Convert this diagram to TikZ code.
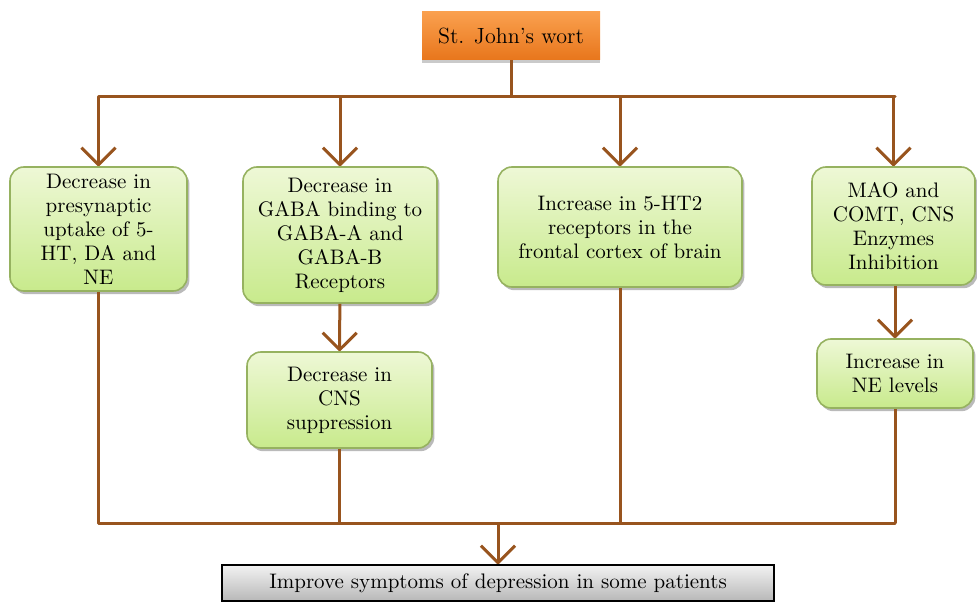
\documentclass[tikz,border=0pt]{standalone}
\usetikzlibrary{arrows.meta,shadows}

\definecolor{linkbrown}{RGB}{152,84,30}
\definecolor{greentop}{RGB}{238,248,214}
\definecolor{greenbot}{RGB}{200,234,140}
\definecolor{greenedge}{RGB}{150,178,96}
\definecolor{orangetop}{RGB}{250,160,78}
\definecolor{orangebot}{RGB}{232,118,28}

\begin{document}
\begin{tikzpicture}[x=0.5pt,y=-0.5pt,
    effect/.style={rounded corners=7pt,draw=greenedge,line width=0.8pt,
      top color=greentop,bottom color=greenbot,align=center,inner sep=2pt,
      font=\fontsize{10.5}{12}\selectfont,
      drop shadow={shadow xshift=1.2pt,shadow yshift=-1.6pt,fill=black!45,opacity=0.6}},
    herb/.style={top color=orangetop,bottom color=orangebot,align=center,
      font=\fontsize{11}{13}\selectfont,
      drop shadow={shadow xshift=0pt,shadow yshift=-1.6pt,fill=black!35,opacity=0.6}},
    outcome/.style={draw=black,line width=0.8pt,top color=black!5,bottom color=black!28,
      align=center,font=\fontsize{10.5}{12}\selectfont},
    link/.style={draw=linkbrown,line width=1.5pt},
    arr/.style={link,-{Straight Barb[length=8.5pt,width=17pt,line join=round]}}]
  \useasboundingbox (0,0) rectangle (977,603);

  \node[herb,minimum width=89pt,minimum height=24pt] (wort) at (511,36) {St. John's wort};

  \node[effect,minimum width=88.5pt,minimum height=62pt] (uptake) at (98.5,229)
    {Decrease in\\ presynaptic\\ uptake of 5-\\ HT, DA and\\ NE};
  \node[effect,minimum width=97pt,minimum height=68pt] (gaba) at (340,235)
    {Decrease in\\ GABA binding to\\ GABA-A and\\ GABA-B\\ Receptors};
  \node[effect,minimum width=122pt,minimum height=60pt] (ht2) at (620,227)
    {Increase in 5-HT2\\ receptors in the\\ frontal cortex of brain};
  \node[effect,minimum width=81.5pt,minimum height=59pt] (mao) at (893.5,226)
    {MAO and\\ COMT, CNS\\ Enzymes\\ Inhibition};

  \node[effect,minimum width=92.5pt,minimum height=48pt] (cns) at (339.5,400)
    {Decrease in\\ CNS\\ suppression};
  \node[effect,minimum width=78pt,minimum height=34.5pt] (ne) at (895,373.5)
    {Increase in\\ NE levels};

  \node[outcome,minimum width=276pt,minimum height=18pt] (improve) at (498,583)
    {Improve symptoms of depression in some patients};

  % fan out
  \coordinate (topl) at (98.5,97);
  \coordinate (topr) at (895,97);
  \draw[link] (wort) -- (wort |- topl);
  \draw[link,line cap=round] (topl) -- (topr);
  \draw[arr] (topl) -- (uptake.north);
  \draw[arr] (gaba |- topl) -- (gaba.north);
  \draw[arr] (ht2 |- topl) -- (ht2.north);
  \draw[arr] (mao |- topr) -- (mao.north);
  \draw[arr] (gaba) -- (cns);
  \draw[arr] (mao.south -| ne) -- (ne.north);

  % fan in
  \coordinate (botl) at (98.5,523);
  \coordinate (botr) at (895,523);
  \draw[link] (uptake) -- (botl);
  \draw[link] (cns) -- (cns |- botl);
  \draw[link] (ht2) -- (ht2 |- botl);
  \draw[link] (ne) -- (botr);
  \draw[link,line cap=round] (botl) -- (botr);
  \draw[arr] (improve |- botl) -- (improve.north);
\end{tikzpicture}
\end{document}
